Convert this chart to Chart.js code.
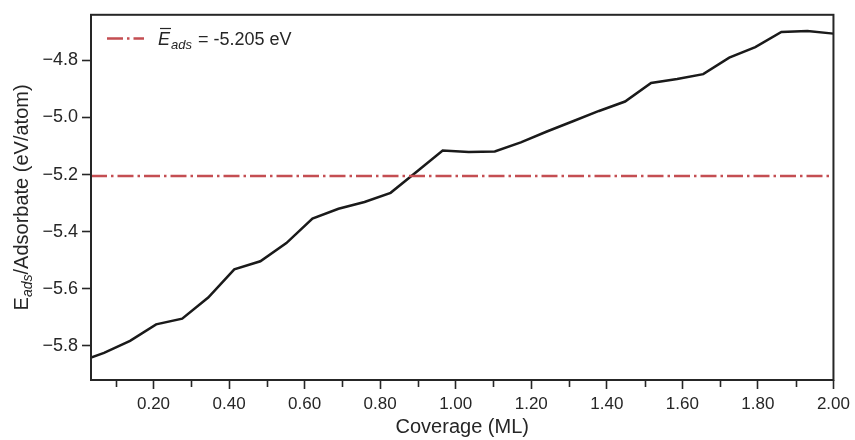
<!DOCTYPE html>
<html>
<head>
<meta charset="utf-8">
<script src="https://cdn.jsdelivr.net/npm/chart.js@4"></script>
<style>
  html, body { margin: 0; padding: 0; background: #fff; }
  canvas { display: block; }
</style>
</head>
<body>
<canvas id="ads_chart" width="855" height="440"></canvas>
<script>
// coverage (ML) and adsorption energy per adsorbate (eV/atom)
const coverage = [0.0345, 0.0690, 0.1379, 0.2069, 0.2759, 0.3448, 0.4138, 0.4828, 0.5517, 0.6207,
                  0.6897, 0.7586, 0.8276, 0.8966, 0.9655, 1.0345, 1.1034, 1.1724, 1.2414, 1.3103,
                  1.3793, 1.4483, 1.5172, 1.5862, 1.6552, 1.7241, 1.7931, 1.8621, 1.9310, 2.0000];
const energy = [-5.841, -5.825, -5.783, -5.725, -5.705, -5.631, -5.532, -5.504, -5.440, -5.354,
                -5.320, -5.296, -5.264, -5.190, -5.116, -5.121, -5.119, -5.087, -5.049, -5.013,
                -4.977, -4.944, -4.879, -4.865, -4.848, -4.790, -4.753, -4.700, -4.697, -4.706];
const meanEnergy = -5.205;
const xTicks = [0.2, 0.4, 0.6, 0.8, 1.0, 1.2, 1.4, 1.6, 1.8, 2.0];
const xMinorTicks = [0.1, 0.3, 0.5, 0.7, 0.9, 1.1, 1.3, 1.5, 1.7, 1.9];
const yTicks = [-5.8, -5.6, -5.4, -5.2, -5.0, -4.8];

const ink = '#262626';
const meanColor = '#c44e52';
const meanDash = [16, 4, 2.5, 4];
const fontFamily = '"Liberation Sans", Arial, sans-serif';

const frameAndExtras = {
    id: 'frameAndExtras',
    afterDraw(chart) {
        const {ctx, chartArea: {left, top, right, bottom}} = chart;
        const xs = chart.scales.x;
        ctx.save();
        // box
        ctx.strokeStyle = ink;
        ctx.lineWidth = 2;
        ctx.strokeRect(left, top, right - left, bottom - top);

        // minor ticks on x
        ctx.lineWidth = 1.6;
        ctx.beginPath();
        xMinorTicks.forEach(v => {
            const px = Math.round(xs.getPixelForValue(v)) + 0.5;
            ctx.moveTo(px, bottom + 1);
            ctx.lineTo(px, bottom + 7);
        });
        ctx.stroke();

        // y axis title with subscript
        ctx.fillStyle = ink;
        ctx.textBaseline = 'alphabetic';
        const big = '20px ' + fontFamily;
        const small = 'italic 14px ' + fontFamily;
        const parts = [
            {t: 'E', f: big, dy: 0},
            {t: 'ads', f: small, dy: 4},
            {t: '/Adsorbate (eV/atom)', f: big, dy: 0}
        ];
        let total = 0;
        parts.forEach(p => { ctx.font = p.f; p.w = ctx.measureText(p.t).width; total += p.w; });
        ctx.translate(28, (top + bottom) / 2);
        ctx.rotate(-Math.PI / 2);
        let x = -total / 2;
        parts.forEach(p => {
            ctx.font = p.f;
            ctx.fillText(p.t, x, p.dy);
            x += p.w;
        });
        ctx.setTransform(1, 0, 0, 1, 0, 0);

        // legend
        const ly = 38.5;
        ctx.strokeStyle = meanColor;
        ctx.lineWidth = 2.5;
        ctx.setLineDash(meanDash);
        ctx.beginPath();
        ctx.moveTo(107, ly);
        ctx.lineTo(144, ly);
        ctx.stroke();
        ctx.setLineDash([]);

        ctx.fillStyle = ink;
        let lx = 158;
        const base = 45;
        ctx.font = 'italic 18px ' + fontFamily;
        const ew = ctx.measureText('E').width;
        ctx.fillText('E', lx, base);
        ctx.strokeStyle = ink;
        ctx.lineWidth = 1.2;
        ctx.beginPath();
        ctx.moveTo(lx + 2, 28.5);
        ctx.lineTo(lx + ew + 1, 28.5);
        ctx.stroke();
        lx += ew + 1;
        ctx.font = 'italic 13px ' + fontFamily;
        ctx.fillText('ads', lx, base + 4);
        lx += ctx.measureText('ads').width + 1;
        ctx.font = '18px ' + fontFamily;
        ctx.fillText(' = ' + meanEnergy.toFixed(3) + ' eV', lx, base);
        ctx.restore();
    }
};

new Chart(document.getElementById('ads_chart'), {
    type: 'line',
    data: {
        datasets: [
            {
                label: 'Eads',
                data: coverage.map((c, i) => ({x: c, y: energy[i]})),
                borderColor: '#1a1a1a',
                borderWidth: 2.5,
                pointRadius: 0,
                fill: false,
                tension: 0,
                order: 1
            },
            {
                label: 'mean',
                data: [coverage[0], coverage[coverage.length - 1]].map(c => ({x: c, y: meanEnergy})),
                borderColor: meanColor,
                borderWidth: 2.5,
                borderDash: meanDash,
                pointRadius: 0,
                fill: false,
                order: 0
            }
        ]
    },
    options: {
        responsive: false,
        animation: false,
        devicePixelRatio: 1,
        layout: {padding: {left: 0, right: 20, top: 10, bottom: 0}},
        plugins: {
            legend: {display: false},
            tooltip: {enabled: false}
        },
        scales: {
            x: {
                type: 'linear',
                min: coverage[0],
                max: 2.0,
                afterBuildTicks: (scale) => { scale.ticks = xTicks.map(v => ({value: v})); },
                afterFit: (scale) => { scale.height = 60; },
                grid: {
                    drawOnChartArea: false,
                    tickLength: 9,
                    tickWidth: 1.6,
                    tickColor: ink
                },
                border: {display: false},
                ticks: {
                    color: ink,
                    font: {family: fontFamily, size: 17},
                    padding: 5,
                    maxRotation: 0,
                    autoSkip: false,
                    callback: (v) => Number(v).toFixed(2)
                },
                title: {
                    display: true,
                    text: 'Coverage (ML)',
                    color: ink,
                    font: {family: fontFamily, size: 20},
                    padding: {top: 0, bottom: 1}
                }
            },
            y: {
                min: -5.92,
                max: -4.64,
                afterBuildTicks: (scale) => { scale.ticks = yTicks.map(v => ({value: v})); },
                afterFit: (scale) => { scale.width = 91; },
                grid: {
                    drawOnChartArea: false,
                    tickLength: 9,
                    tickWidth: 1.6,
                    tickColor: ink
                },
                border: {display: false},
                ticks: {
                    color: ink,
                    font: {family: fontFamily, size: 18},
                    padding: 4,
                    callback: (v) => Number(v).toFixed(1).replace('-', '\u2212')
                }
            }
        }
    },
    plugins: [frameAndExtras]
});
</script>
</body>
</html>
